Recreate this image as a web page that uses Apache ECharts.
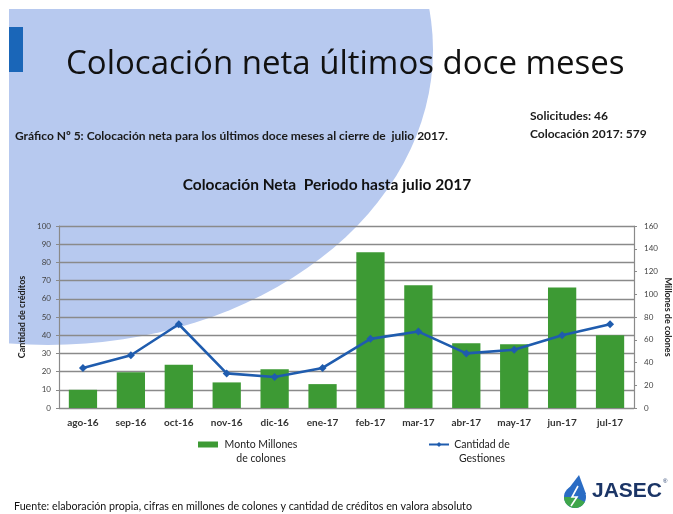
<!DOCTYPE html>
<html>
<head>
<meta charset="utf-8">
<script src="https://cdn.jsdelivr.net/npm/echarts@6/dist/echarts.min.js"></script>
<style>
  html, body { margin: 0; padding: 0; background: #ffffff; }
  #chart { width: 673px; height: 514px; }
</style>
</head>
<body>
<div id="chart"></div>
<script>
// ---- data ----
const categories = ['ago-16', 'sep-16', 'oct-16', 'nov-16', 'dic-16', 'ene-17',
                    'feb-17', 'mar-17', 'abr-17', 'may-17', 'jun-17', 'jul-17'];
const montoMillones = [16, 31.5, 38, 22.5, 34, 21, 137, 108, 57, 56, 106, 64];
const cantidadGestiones = [22, 29, 46, 19, 17, 22, 38, 42, 30, 32, 40, 46];
const leftAxisTicks = { min: 0, max: 100, interval: 10 };
const rightAxisTicks = { min: 0, max: 160, interval: 20 };
const seriesNames = ['Monto Millones de colones', 'Cantidad de Gestiones'];
const legendLines = { 'Monto Millones de colones': ['a', 'Monto Millones', 'de colones'],
                      'Cantidad de Gestiones': ['b', 'Cantidad de', 'Gestiones'] };

const FONT = 'Lato, "Open Sans", sans-serif';
const chart = echarts.init(document.getElementById('chart'), null, { renderer: 'canvas' });

const option = {
  backgroundColor: '#ffffff',
  animation: false,
  textStyle: { fontFamily: FONT },
  graphic: [
    // light blue background shape
    { type: 'circle', z: -20, x: 48, y: 50, scaleX: 385 / 295, scaleY: 1,
      shape: { cx: 0, cy: 0, r: 295 }, style: { fill: '#b7c9ef' }, silent: true },
    { type: 'rect', z: -19, shape: { x: 0, y: 0, width: 673, height: 9 }, style: { fill: '#ffffff' }, silent: true },
    { type: 'rect', z: -19, shape: { x: 0, y: 0, width: 9, height: 514 }, style: { fill: '#ffffff' }, silent: true },
    { type: 'rect', z: -18, shape: { x: 9, y: 27, width: 14, height: 45 }, style: { fill: '#1a66b8' }, silent: true },
    // texts
    { type: 'text', z: 10, x: 66, y: 65,
      style: { text: 'Colocación neta últimos doce meses', font: 'normal 33px "Open Sans", sans-serif', fill: '#111111', verticalAlign: 'middle' } },
    { type: 'text', z: 10, x: 15, y: 136,
      style: { text: 'Gráfico Nº 5: Colocación neta para los últimos doce meses al cierre de  julio 2017.', font: 'bold 12px ' + FONT, fill: '#1a1a1a', verticalAlign: 'middle' } },
    { type: 'text', z: 10, x: 530, y: 116,
      style: { text: 'Solicitudes: 46', font: 'bold 12px ' + FONT, fill: '#1a1a1a', verticalAlign: 'middle' } },
    { type: 'text', z: 10, x: 530, y: 134,
      style: { text: 'Colocación 2017: 579', font: 'bold 12px ' + FONT, fill: '#1a1a1a', verticalAlign: 'middle' } },
    { type: 'text', z: 10, x: 327, y: 185,
      style: { text: 'Colocación Neta  Periodo hasta julio 2017', font: 'bold 15.5px ' + FONT, fill: '#111111', align: 'center', verticalAlign: 'middle' } },
    { type: 'text', z: 10, x: 14, y: 507,
      style: { text: 'Fuente: elaboración propia, cifras en millones de colones y cantidad de créditos en valora absoluto', font: 'normal 10.7px ' + FONT, fill: '#111111', verticalAlign: 'middle' } },
    // JASEC logo
    { type: 'circle', z: 10, shape: { cx: 575, cy: 497, r: 11 }, style: { fill: '#2a6cc4' } },
    { type: 'polygon', z: 10, shape: { points: [[579, 475], [564.5, 494], [586, 494]] }, style: { fill: '#2a6cc4' } },
    { type: 'sector', z: 11, shape: { cx: 575, cy: 497, r: 11, r0: 0, startAngle: Math.PI * 0.15, endAngle: Math.PI * 1.0 }, style: { fill: '#3fa64a' } },
    { type: 'polyline', z: 12, shape: { points: [[578, 486], [572, 497], [577, 497], [571, 506]] }, style: { stroke: '#ffffff', lineWidth: 1.6, fill: null } },
    { type: 'text', z: 10, x: 592, y: 491,
      style: { text: 'JASEC', font: 'bold 21px "Liberation Sans", Arial, sans-serif', fill: '#1b3566', verticalAlign: 'middle' } },
    { type: 'text', z: 10, x: 663, y: 481,
      style: { text: '®', font: 'normal 6px "Liberation Sans", Arial, sans-serif', fill: '#1b3566', verticalAlign: 'middle' } }
  ],
  legend: {
    left: 198, top: 425, padding: 0,
    itemGap: 129, itemWidth: 20, itemHeight: 6,
    data: [
      { name: seriesNames[0], icon: 'rect' },
      { name: seriesNames[1] }
    ],
    formatter: function (name) {
      const l = legendLines[name];
      return '{' + l[0] + '| }\n{' + l[0] + '|' + l[1] + '}\n{' + l[0] + '|' + l[2] + '}';
    },
    textStyle: {
      rich: {
        a: { width: 76, align: 'center', fontSize: 10.5, lineHeight: 14, color: '#222222', fontFamily: FONT },
        b: { width: 56, align: 'center', fontSize: 10.5, lineHeight: 14, color: '#222222', fontFamily: FONT }
      }
    }
  },
  grid: { left: 59, right: 39, top: 226, bottom: 106, containLabel: false, outerBoundsMode: 'none' },
  xAxis: {
    type: 'category',
    data: categories,
    axisLine: { show: true, lineStyle: { color: '#8a8a8a', width: 1.2 } },
    axisTick: { show: false },
    axisLabel: { fontSize: 10, fontWeight: 'bold', color: '#333333', margin: 10, interval: 0 }
  },
  yAxis: [
    {
      type: 'value', position: 'left',
      min: leftAxisTicks.min, max: leftAxisTicks.max, interval: leftAxisTicks.interval,
      name: 'Cantidad de créditos', nameLocation: 'middle', nameGap: 32, nameRotate: 90,
      nameMoveOverlap: false,
      nameTextStyle: { fontSize: 9, fontWeight: 'bold', color: '#222222' },
      axisLine: { show: true, lineStyle: { color: '#8a8a8a', width: 1.2 } },
      axisTick: { show: true, length: 3, lineStyle: { color: '#8a8a8a' } },
      axisLabel: { fontSize: 8, color: '#444444', margin: 8 },
      splitLine: { show: true, lineStyle: { color: '#8a8a8a', width: 1.3 } }
    },
    {
      type: 'value', position: 'right',
      min: rightAxisTicks.min, max: rightAxisTicks.max, interval: rightAxisTicks.interval,
      name: 'Millones de colones', nameLocation: 'middle', nameGap: 29, nameRotate: -90,
      nameMoveOverlap: false,
      nameTextStyle: { fontSize: 9, fontWeight: 'bold', color: '#222222' },
      axisLine: { show: true, lineStyle: { color: '#8a8a8a', width: 1.2 } },
      axisTick: { show: true, length: 3, lineStyle: { color: '#8a8a8a' } },
      axisLabel: { fontSize: 8, color: '#444444', margin: 10 },
      splitLine: { show: false }
    }
  ],
  series: [
    {
      name: seriesNames[0], type: 'bar', yAxisIndex: 1,
      data: montoMillones, barWidth: '59%',
      itemStyle: { color: '#3d9a34' }
    },
    {
      name: seriesNames[1], type: 'line', yAxisIndex: 0,
      data: cantidadGestiones,
      symbol: 'diamond', symbolSize: 8,
      lineStyle: { color: '#1f5cae', width: 2.6 },
      itemStyle: { color: '#1f5cae' }
    }
  ]
};
chart.setOption(option);
</script>
</body>
</html>
